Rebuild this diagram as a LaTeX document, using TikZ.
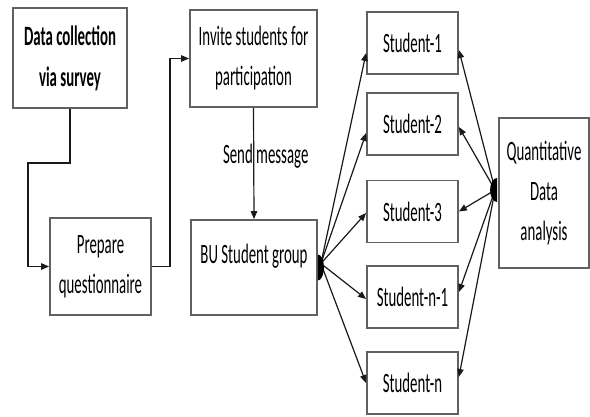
\documentclass[tikz,border=0pt]{standalone}
\usepackage{fontspec}
\setmainfont[FakeStretch=0.53]{Carlito}
\usetikzlibrary{arrows.meta,calc}
\tikzset{
  box/.style={draw=black!62, line width=1.8pt, fill=white, inner sep=0pt, align=center,
    font=\fontsize{28}{40}\selectfont},
  stud/.style={box, minimum width=91pt, minimum height=62pt},
  conn/.style={draw=black!90, line width=1.2pt},
  arr/.style={conn, -{Triangle[length=8pt,width=6.5pt]}},
}
\begin{document}
\begin{tikzpicture}[x=1pt,y=-1pt]
\useasboundingbox (0,0) rectangle (590,416);
% boxes
\node[box, minimum width=114pt, minimum height=100pt, font=\fontsize{28}{41}\selectfont\bfseries] (b1) at (70,58) {Data collection\\via survey};
\node[box, minimum width=101pt, minimum height=97pt] (b2) at (100.5,266.5) {Prepare\\questionnaire};
\node[box, minimum width=127pt, minimum height=97pt] (b3) at (253.5,58.5) {Invite students for\\participation};
\node[box, minimum width=126pt, minimum height=95pt, text depth=28pt] (b4) at (254,267.5) {BU Student group};
\node[stud] (s1) at (412.5,43) {Student-1};
\node[stud] (s2) at (412.5,124) {Student-2};
\node[stud] (s3) at (412.5,211.5) {Student-3};
\node[stud] (s4) at (412.5,297) {Student-n-1};
\node[stud] (s5) at (412.5,383) {Student-n};
\node[box, minimum width=90pt, minimum height=150pt] (q) at (544,193) {Quantitative\\Data\\analysis};
% flow connectors
\coordinate (j1) at (28,163);
\coordinate (j2) at (170,160);
\draw[arr] (b1.south) |- (j1) |- (b2.west);
\draw[arr] (b2.east) -| (j2) |- (b3.west);
\draw[arr] (b3.south) -- (b4.north) node[pos=0.43, font=\fontsize{28}{40}\selectfont, xshift=12pt] (lbl) {Send message};
% fan from BU student group
\coordinate (src) at ($(b4.east)+(3,-4)$);
\draw[arr] (src) -- ([yshift=-10pt]s1.west);
\draw[arr] (src) -- ([yshift=-9pt]s2.west);
\draw[arr] (src) -- ([yshift=-1.5pt]s3.west);
\draw[arr] (src) -- ([yshift=-2pt]s4.west);
\draw[arr] (src) -- (s5.west);
\fill ($(b4.east)+(0,-13)$) arc[start angle=-90, end angle=90, x radius=6, y radius=13] -- cycle;
% fan from quantitative analysis
\coordinate (qsrc) at ($(q.west)+(-3,-3)$);
\draw[arr] (qsrc) -- ([yshift=-7pt]s1.east);
\draw[arr] (qsrc) -- ([yshift=-3pt]s2.east);
\draw[arr] (qsrc) -- (s3.east);
\draw[arr] (qsrc) -- ([yshift=5pt]s4.east);
\draw[arr] (qsrc) -- ([yshift=6pt]s5.east);
\fill ($(q.west)+(-1,-15)$) arc[start angle=-90, end angle=-270, x radius=7, y radius=12] -- cycle;
\end{tikzpicture}
\end{document}
